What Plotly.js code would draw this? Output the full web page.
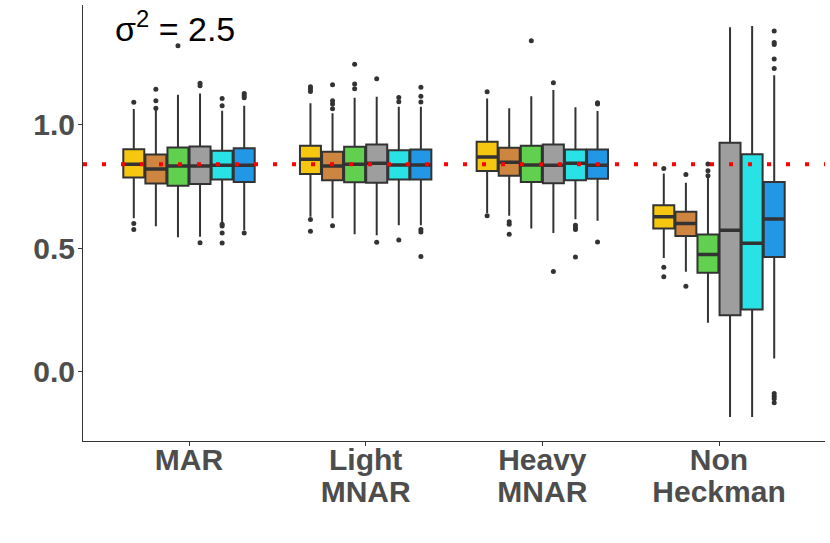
<!DOCTYPE html>
<html>
<head>
<meta charset="utf-8">
<script src="https://cdn.plot.ly/plotly-3.0.1.min.js"></script>
<style>html,body{margin:0;padding:0;background:#fff;}#chart{width:830px;height:543px;}</style>
</head>
<body>
<div id="chart"></div>
<script>
// Categories and tick labels
const categories = ["MAR", "Light MNAR", "Heavy MNAR", "Non Heckman"];
const tickLine1 = ["MAR", "Light", "Heavy", "Non"];
const tickLine2 = ["", "MNAR", "MNAR", "Heckman"];
const seriesNames = ["m1", "m2", "m3", "m4", "m5", "m6"];
const seriesColors = ["#F5C710", "#CD853F", "#61D04F", "#9E9E9E", "#28E2E5", "#2297E6"];
const trueValue = 0.838;

// Box statistics, [series][category]
const Q1 = [
  [0.785, 0.799, 0.811, 0.579],
  [0.760, 0.774, 0.792, 0.549],
  [0.751, 0.765, 0.767, 0.400],
  [0.758, 0.763, 0.761, 0.229],
  [0.777, 0.777, 0.774, 0.252],
  [0.767, 0.777, 0.780, 0.464]
];
const MEDIAN = [
  [0.838, 0.858, 0.867, 0.626],
  [0.819, 0.831, 0.846, 0.599],
  [0.831, 0.838, 0.835, 0.474],
  [0.831, 0.842, 0.834, 0.572],
  [0.834, 0.835, 0.842, 0.519],
  [0.834, 0.835, 0.834, 0.617]
];
const Q3 = [
  [0.899, 0.913, 0.929, 0.673],
  [0.878, 0.889, 0.905, 0.646],
  [0.906, 0.909, 0.913, 0.555],
  [0.910, 0.918, 0.918, 0.925],
  [0.893, 0.895, 0.898, 0.879],
  [0.903, 0.898, 0.898, 0.767]
];
const LOWER = [
  [0.620, 0.626, 0.641, 0.460],
  [0.588, 0.620, 0.630, 0.404],
  [0.543, 0.556, 0.579, 0.198],
  [0.545, 0.552, 0.561, -0.182],
  [0.605, 0.592, 0.616, -0.182],
  [0.572, 0.592, 0.610, 0.054]
];
const UPPER = [
  [1.061, 1.084, 1.104, 0.801],
  [1.057, 1.044, 1.064, 0.763],
  [1.119, 1.107, 1.113, 0.784],
  [1.124, 1.111, 1.138, 1.391],
  [1.054, 1.070, 1.068, 1.396],
  [1.074, 1.070, 1.053, 1.197]
];
const OUTLIERS = [
  [[1.088, 0.599, 0.575], [1.151, 1.142, 1.132, 0.615, 0.568], [1.131, 0.630], [0.821, 0.422, 0.384]],
  [[1.141, 1.094, 1.064], [1.159, 1.094, 1.081, 1.062, 0.590], [0.606, 0.596, 0.556], [0.797, 0.346]],
  [[1.317], [1.242, 1.162, 1.143], [1.337], [0.839, 0.812, 0.792]],
  [[1.165, 1.155, 0.521], [1.183, 0.523], [1.167, 0.405], []],
  [[1.104, 1.074, 0.596, 0.589, 0.561, 0.520], [1.108, 1.090, 0.532], [0.592, 0.582, 0.575, 0.464], []],
  [[1.124, 1.115, 1.107, 0.561], [1.149, 1.113, 1.089, 0.575, 0.565, 0.466], [1.086, 1.081, 0.524], [1.376, 1.330, 1.322, 1.263, 1.225, -0.087, -0.098, -0.108, -0.125]]
];

const boxTraces = seriesNames.map((name, s) => ({
  type: "box",
  name: name,
  offsetgroup: name,
  x: categories,
  y: OUTLIERS[s],
  q1: Q1[s],
  median: MEDIAN[s],
  q3: Q3[s],
  lowerfence: LOWER[s],
  upperfence: UPPER[s],
  boxpoints: "outliers",
  jitter: 0,
  pointpos: 0,
  whiskerwidth: 0,
  fillcolor: seriesColors[s],
  line: {color: "#333333", width: 2},
  marker: {color: "#333333", size: 5, line: {width: 0}},
  showlegend: false,
  hoverinfo: "skip"
}));

// thicker median bars (ggplot fatten), same offset groups as the boxes
const medianTraces = seriesNames.map((name, s) => ({
  type: "box",
  name: name + "-median",
  offsetgroup: name,
  x: categories,
  q1: MEDIAN[s],
  median: MEDIAN[s],
  q3: MEDIAN[s],
  lowerfence: MEDIAN[s],
  upperfence: MEDIAN[s],
  boxpoints: false,
  whiskerwidth: 0,
  fillcolor: "rgba(0,0,0,0)",
  line: {color: "#333333", width: 3.5},
  showlegend: false,
  hoverinfo: "skip"
}));

// invisible helper so the second-line label axis is drawn
const labelAxisTrace = {
  type: "scatter",
  mode: "markers",
  xaxis: "x2",
  yaxis: "y",
  x: categories.map((c, i) => i),
  y: categories.map(() => null),
  showlegend: false,
  hoverinfo: "skip"
};

const line2Idx = tickLine2.map((t, i) => i).filter(i => tickLine2[i] !== "");

const tickFont = {family: "Liberation Sans, Arial, sans-serif", size: 30, color: "#4D4D4D", weight: "bold"};

const layout = {
  width: 830,
  height: 543,
  margin: {l: 83, r: 5, t: 5, b: 102},
  paper_bgcolor: "#ffffff",
  plot_bgcolor: "#ffffff",
  boxmode: "group",
  boxgap: 0.25,
  boxgroupgap: 0.05,
  showlegend: false,
  xaxis: {
    type: "category",
    categoryorder: "array",
    categoryarray: categories,
    tickmode: "array",
    tickvals: categories,
    ticktext: tickLine1,
    range: [-0.6, 3.6],
    showline: true,
    linecolor: "#333333",
    linewidth: 1,
    ticks: "outside",
    ticklen: 4,
    tickcolor: "#333333",
    ticklabelstandoff: -12,
    showgrid: false,
    zeroline: false,
    tickfont: tickFont
  },
  xaxis2: {
    type: "linear",
    overlaying: "x",
    anchor: "y",
    side: "bottom",
    range: [-0.6, 3.6],
    tickmode: "array",
    tickvals: line2Idx,
    ticktext: line2Idx.map(i => tickLine2[i]),
    showline: false,
    ticks: "",
    ticklabelstandoff: 30,
    showgrid: false,
    zeroline: false,
    tickfont: tickFont
  },
  yaxis: {
    range: [-0.279, 1.481],
    tickmode: "array",
    tickvals: [0, 0.5, 1.0],
    ticktext: ["0.0", "0.5", "1.0"],
    showline: true,
    linecolor: "#333333",
    linewidth: 1,
    ticks: "outside",
    ticklen: 4,
    tickcolor: "#333333",
    ticklabelstandoff: -3,
    showgrid: false,
    zeroline: false,
    tickfont: tickFont
  },
  shapes: [{
    type: "line",
    xref: "paper", x0: 0, x1: 1,
    yref: "y", y0: trueValue, y1: trueValue,
    line: {color: "#FF0000", width: 4, dash: "4px,15px"},
    layer: "above"
  }],
  annotations: [{
    xref: "paper", yref: "paper",
    x: 0.040, y: 0.95,
    xanchor: "left", yanchor: "middle",
    text: "σ<sup>2</sup> = 2.5",
    showarrow: false,
    font: {family: "Liberation Sans, Arial, sans-serif", size: 34, color: "#000000"}
  }]
};

Plotly.newPlot("chart", boxTraces.concat(medianTraces, [labelAxisTrace]), layout, {displayModeBar: false, staticPlot: true});
</script>
</body>
</html>
